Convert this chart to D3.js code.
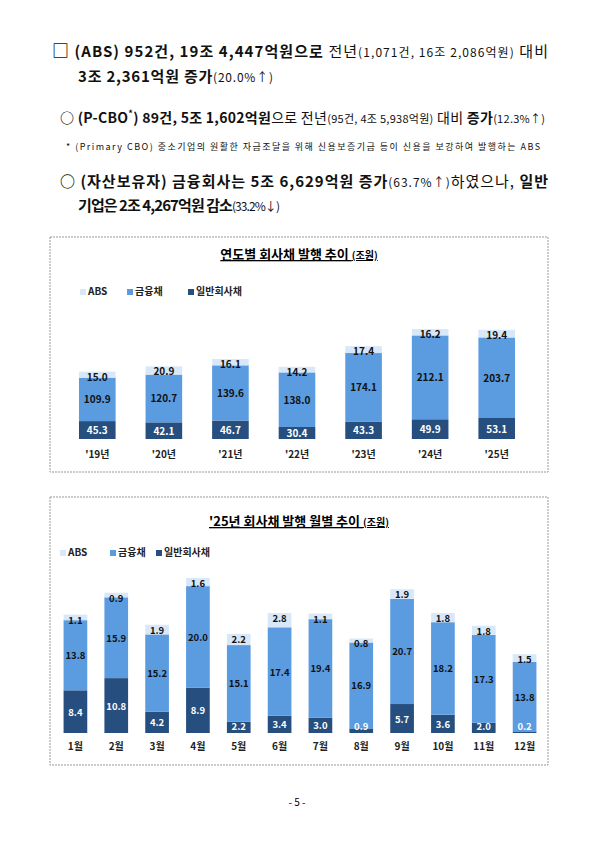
<!DOCTYPE html><html><head><meta charset="utf-8">
<script src="https://cdn.jsdelivr.net/npm/d3@7"></script>
<style>body{margin:0;background:#fff}svg{font-family:"Noto Sans CJK KR",sans-serif}</style></head><body>
<svg id="s" width="595" height="841"></svg>
<script>
const years=["'19년","'20년","'21년","'22년","'23년","'24년","'25년"];
const yGen=[45.3,42.1,46.7,30.4,43.3,49.9,53.1];
const yFin=[109.9,120.7,139.6,138.0,174.1,212.1,203.7];
const yAbs=[15.0,20.9,16.1,14.2,17.4,16.2,19.4];
const months=["1월","2월","3월","4월","5월","6월","7월","8월","9월","10월","11월","12월"];
const mGen=[8.4,10.8,4.2,8.9,2.2,3.4,3.0,0.9,5.7,3.6,2.0,0.2];
const mFin=[13.8,15.9,15.2,20.0,15.1,17.4,19.4,16.9,20.7,18.2,17.3,13.8];
const mAbs=[1.1,0.9,1.9,1.6,2.2,2.8,1.1,0.8,1.9,1.8,1.8,1.5];
const keys=["일반회사채","금융채","ABS"];
const col={"일반회사채":"#264f80","금융채":"#5b9be0","ABS":"#d9e8f8"};
const lab={"일반회사채":"#fff","금융채":"#111","ABS":"#111"};
const svg=d3.select("#s");
const T=[
 {x:52,y:57,s:15,L:496,h:'<tspan font-size="17">□</tspan> (ABS) 952건, 19조 4,447억원으로 <tspan font-weight="normal">전년</tspan><tspan font-weight="normal" font-size="12">(1,071건, 16조 2,086억원)</tspan> <tspan font-weight="normal">대비</tspan>'},
 {x:78,y:82,s:15,L:195,h:'3조 2,361억원 증가<tspan font-weight="normal" font-size="12">(20.0%↑)</tspan>'},
 {x:60,y:123,s:14,L:485,h:'○ (P-CBO<tspan font-size="9" dy="-6">*</tspan><tspan dy="6">) 89건, 5조 1,602억원</tspan><tspan font-weight="normal">으로 전년</tspan><tspan font-weight="normal" font-size="11">(95건, 4조 5,938억원)</tspan> <tspan font-weight="normal">대비</tspan> 증가<tspan font-weight="normal" font-size="11">(12.3%↑)</tspan>'},
 {x:66,y:150,s:9,L:474,w:'normal',h:'* (Primary CBO) 중소기업의 원활한 자금조달을 위해 신용보증기금 등이 신용을 보강하여 발행하는 ABS'},
 {x:60,y:187,s:15,L:488,h:'○ (자산보유자) 금융회사는 5조 6,629억원 증가<tspan font-weight="normal" font-size="12">(63.7%↑)</tspan><tspan font-weight="normal">하였으나,</tspan> 일반'},
 {x:78,y:211,s:15,L:202,h:'기업은 2조 4,267억원 감소<tspan font-weight="normal" font-size="12">(33.2%↓)</tspan>'}];
T.forEach(t=>svg.append("text").attr("x",t.x).attr("y",t.y).attr("font-size",t.s).attr("font-weight",t.w||"bold").attr("fill","#111").attr("textLength",t.L).attr("lengthAdjust","spacing").html(t.h));
svg.append("text").attr("x",297).attr("y",806).attr("text-anchor","middle").attr("font-size",10).text("- 5 -");

function chart(o){
 const g=svg.append("g");
 g.append("rect").attr("x",o.x0).attr("y",o.y0).attr("width",o.x1-o.x0).attr("height",o.y1-o.y0).attr("fill","none").attr("stroke","#999").attr("stroke-dasharray","2,1");
 g.append("text").attr("x",(o.x0+o.x1)/2).attr("y",o.ty).attr("text-anchor","middle").attr("font-size",13).attr("font-weight","bold").attr("text-decoration","underline").html(o.title+' <tspan font-size="10">(조원)</tspan>');
 const lg=[["ABS",o.lx[0]],["금융채",o.lx[1]],["일반회사채",o.lx[2]]];
 lg.forEach(([k,x])=>{g.append("rect").attr("x",x).attr("y",o.ly-6).attr("width",6).attr("height",6).attr("fill",col[k]);
  g.append("text").attr("x",x+8).attr("y",o.ly).attr("font-size",10).attr("font-weight","bold").attr("fill","#222").text(k);});
 const rows=o.cats.map((c,i)=>({c,"일반회사채":o.g[i],"금융채":o.f[i],"ABS":o.a[i]}));
 const st=d3.stack().keys(keys)(rows);
 const x=d3.scaleBand().domain(o.cats).range([o.bx0,o.bx1]).paddingInner(o.pad).paddingOuter(o.pad/2);
 const y=d3.scaleLinear().domain([0,o.ymax]).range([o.base,o.base-o.hmax]);
 st.forEach(s=>s.forEach(d=>g.append("rect").attr("x",x(d.data.c)).attr("width",x.bandwidth()).attr("y",y(d[1])).attr("height",y(d[0])-y(d[1])).attr("fill",col[s.key])));
 st.forEach(s=>s.forEach(d=>{
  const k=s.key,h=y(d[0])-y(d[1]);
  let ty=(y(d[0])+y(d[1]))/2+4, fill=lab[k];
  if(k==="ABS") ty=y(d[1])+9;
  if(k==="일반회사채"&&h<12){ty=o.base-3;}
  g.append("text").attr("x",x(d.data.c)+x.bandwidth()/2).attr("y",ty).attr("text-anchor","middle").attr("font-size",o.fs).attr("font-weight","bold").attr("fill",fill).text((d[1]-d[0]).toFixed(1));
 }));
 const ax=g.append("g").attr("transform",`translate(0,${o.base})`).call(d3.axisBottom(x).tickSize(0).tickPadding(o.tp));
 ax.select(".domain").remove();
 ax.selectAll("text").attr("font-size",10).attr("font-weight","bold").attr("fill","#222").attr("font-family","Noto Sans CJK KR");
}
chart({x0:50,x1:548,y0:237,y1:472,ty:259,title:"연도별 회사채 발행 추이",lx:[80,127,188],ly:295,cats:years,g:yGen,f:yFin,a:yAbs,
 bx0:64,bx1:530,pad:0.45,base:439,ymax:278.2,hmax:110,fs:10,tp:12});
chart({x0:50,x1:548,y0:497,y1:765,ty:526,title:"'25년 회사채 발행 월별 추이",lx:[60,110,156],ly:556,cats:months,g:mGen,f:mFin,a:mAbs,
 bx0:55,bx1:545,pad:0.42,base:733,ymax:30.5,hmax:155,fs:9.5,tp:10});
</script></body></html>
